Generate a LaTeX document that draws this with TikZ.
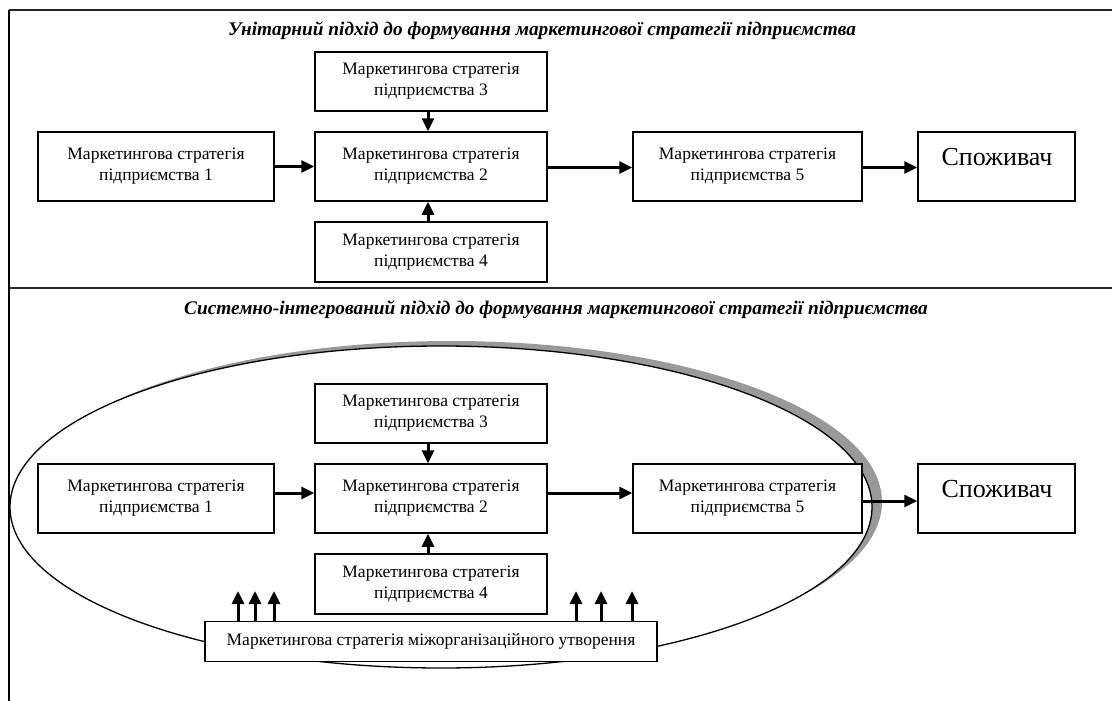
\documentclass[tikz,border=0pt]{standalone}
\usepackage{fontspec}
\setmainfont{Liberation Serif}
\usetikzlibrary{arrows.meta}
\begin{document}
\begin{tikzpicture}[x=1pt,y=-1pt,
  box/.style={draw, line width=1.5pt, fill=white, align=center, inner sep=0pt,
    font=\fontsize{17.5}{21}\selectfont},
  ttl/.style={font=\fontsize{19.3}{23}\selectfont\bfseries\itshape, inner sep=0pt},
  cons/.style={font=\fontsize{26}{30}\selectfont, inner sep=0pt},
  arr/.style={line width=3pt, -{Triangle[length=13pt,width=12pt]}},
  frame/.style={line width=2.6pt, black!85},
]
\useasboundingbox (0,0) rectangle (1112,701);
% frame
\draw[frame] (9,10) -- (1112,10);
\draw[frame] (9,288) -- (1112,288);
\draw[line width=1.5pt] (9,10) -- (9,701);
% titles
\node[ttl] (title1) at (542,31) {Унітарний підхід до формування маркетингової стратегії підприємства};
\node[ttl] (title2) at (556,310) {Системно-інтегрований підхід до формування маркетингової стратегії підприємства};

% ---------- top section ----------
\node[box, minimum width=236pt, minimum height=69pt] (t1) at (156,166.5) {Маркетингова стратегія\\підприємства 1};
\node[box, minimum width=232pt, minimum height=69pt] (t2) at (431,166.5) {Маркетингова стратегія\\підприємства 2};
\node[box, minimum width=232pt, minimum height=59pt] (t3) at (431,81.5) {Маркетингова стратегія\\підприємства 3};
\node[box, minimum width=232pt, minimum height=60pt] (t4) at (431,252) {Маркетингова стратегія\\підприємства 4};
\node[box, minimum width=229pt, minimum height=69pt] (t5) at (747.5,166.5) {Маркетингова стратегія\\підприємства 5};
\node[box, minimum width=157pt, minimum height=69pt] (tc) at (996.5,166.5) {};
\node[cons] (tct) at (997,157) {Споживач};

\draw[arr] ([yshift=0pt]t1.east) -- ([yshift=0pt]t2.west);
\draw[arr] ([yshift=-1pt]t2.east) -- ([yshift=-1pt]t5.west);
\draw[arr] ([yshift=-1pt]t5.east) -- ([yshift=-1pt]tc.west);
\draw[arr] ([xshift=-3pt]t3.south) -- ([xshift=-3pt]t2.north);
\draw[arr] ([xshift=-3pt]t4.north) -- ([xshift=-3pt]t2.south);

% ---------- bottom section ----------
\fill[black!40] (451,502) ellipse [x radius=431pt, y radius=161pt];
\draw[line width=1.3pt, fill=white] (441,507) ellipse [x radius=431pt, y radius=161pt];

\node[box, minimum width=236pt, minimum height=69pt] (b1) at (156,498.5) {Маркетингова стратегія\\підприємства 1};
\node[box, minimum width=232pt, minimum height=69pt] (b2) at (431,498.5) {Маркетингова стратегія\\підприємства 2};
\node[box, minimum width=232pt, minimum height=59pt] (b3) at (431,413.5) {Маркетингова стратегія\\підприємства 3};
\node[box, minimum width=232pt, minimum height=60pt] (b4) at (431,584) {Маркетингова стратегія\\підприємства 4};
\node[box, minimum width=229pt, minimum height=69pt] (b5) at (747.5,498.5) {Маркетингова стратегія\\підприємства 5};
\node[box, minimum width=157pt, minimum height=69pt] (bc) at (996.5,498.5) {};
\node[cons] (bct) at (997,489) {Споживач};
\node[box, minimum width=452pt, minimum height=40pt] (mz) at (431,641.5) {Маркетингова стратегія міжорганізаційного утворення};

\draw[arr] ([yshift=5.5pt]b1.east) -- ([yshift=5.5pt]b2.west);
\draw[arr] ([yshift=5.5pt]b2.east) -- ([yshift=5.5pt]b5.west);
\draw[arr] ([yshift=-2.5pt]b5.east) -- ([yshift=-2.5pt]bc.west);
\draw[arr] ([xshift=-3pt]b3.south) -- ([xshift=-3pt]b2.north);
\draw[arr] ([xshift=-3pt]b4.north) -- ([xshift=-3pt]b2.south);

\coordinate (u1) at (238,591);
\coordinate (u2) at (255,591);
\coordinate (u3) at (274,591);
\coordinate (u4) at (576,591);
\coordinate (u5) at (601,591);
\coordinate (u6) at (632,591);
\foreach \u in {u1,u2,u3,u4,u5,u6}
  \draw[arr] (\u |- mz.north) -- (\u);
\end{tikzpicture}
\end{document}
